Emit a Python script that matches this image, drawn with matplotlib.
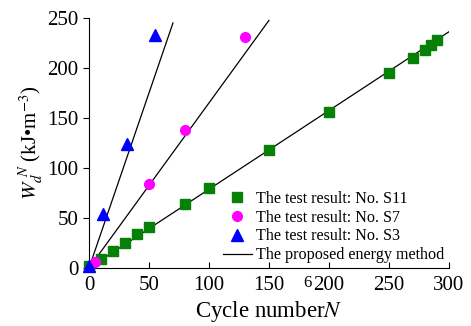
import matplotlib
matplotlib.use('Agg')
import matplotlib.pyplot as plt
import numpy as np

plt.rcParams['font.family'] = ['Liberation Serif', 'DejaVu Serif']
plt.rcParams['mathtext.fontset'] = 'stix'

# test results, specimen S11
s11_n = [0, 10, 20, 30, 40, 50, 80, 100, 150, 200, 250, 270, 280, 285, 290]
s11_w = [2, 9, 17, 25, 34, 41, 64, 80, 118, 156, 195, 210, 218, 223, 228]
# specimen S7
s7_n = [5, 50, 80, 130]
s7_w = [6, 84, 138, 231]
# specimen S3
s3_n = [0, 12, 32, 55]
s3_w = [2, 54, 124, 233]

# proposed energy method: dissipated energy per cycle and range of N
slopes = [0.787, 1.65, 3.5]
n_max = [300, 150, 70]

fig = plt.figure(figsize=(4.71, 3.26), dpi=100)
ax = fig.add_axes([0.189, 0.178, 0.764, 0.767])

ax.plot(s11_n, s11_w, 's', color='#078007', ms=7, clip_on=False,
        label='The test result: No. S11', zorder=3)
ax.plot(s7_n, s7_w, 'o', color='#ff00ff', ms=7, clip_on=False,
        label='The test result: No. S7', zorder=3)
ax.plot(s3_n, s3_w, '^', color='#0000ff', ms=8, clip_on=False,
        label='The test result: No. S3', zorder=3)
for i, (k, nm) in enumerate(zip(slopes, n_max)):
    n = np.array([0, nm])
    ax.plot(n, k * n, '-', color='k', lw=0.9,
            label='The proposed energy method' if i == 0 else None, zorder=2)

ax.set_xlim(0, 300)
ax.set_ylim(0, 250)
ax.set_xticks([0, 50, 100, 150, 200, 250, 300])
ax.set_yticks([0, 50, 100, 150, 200, 250])
ax.spines['top'].set_visible(False)
ax.spines['right'].set_visible(False)
ax.tick_params(axis='x', direction='in', labelsize=15, length=4, pad=6)
ax.tick_params(axis='y', direction='out', labelsize=15, length=4)

ax.set_xlabel('Cycle number$N$', fontsize=16.5, labelpad=3)
ax.set_ylabel('$W_d^{\\ N}$ (kJ\u2022m$^{-3}$)', fontsize=15, labelpad=2)

# stray superscript left beside the 200 tick label
ax.text(182, -7, '6', fontsize=12, ha='center', va='top', clip_on=False)

ax.legend(loc='lower right', bbox_to_anchor=(1.015, -0.02), frameon=False,
          fontsize=11.6, handlelength=1.8, handletextpad=0.3, labelspacing=0.18,
          borderpad=0.1)

plt.savefig('out.png', dpi=100)
